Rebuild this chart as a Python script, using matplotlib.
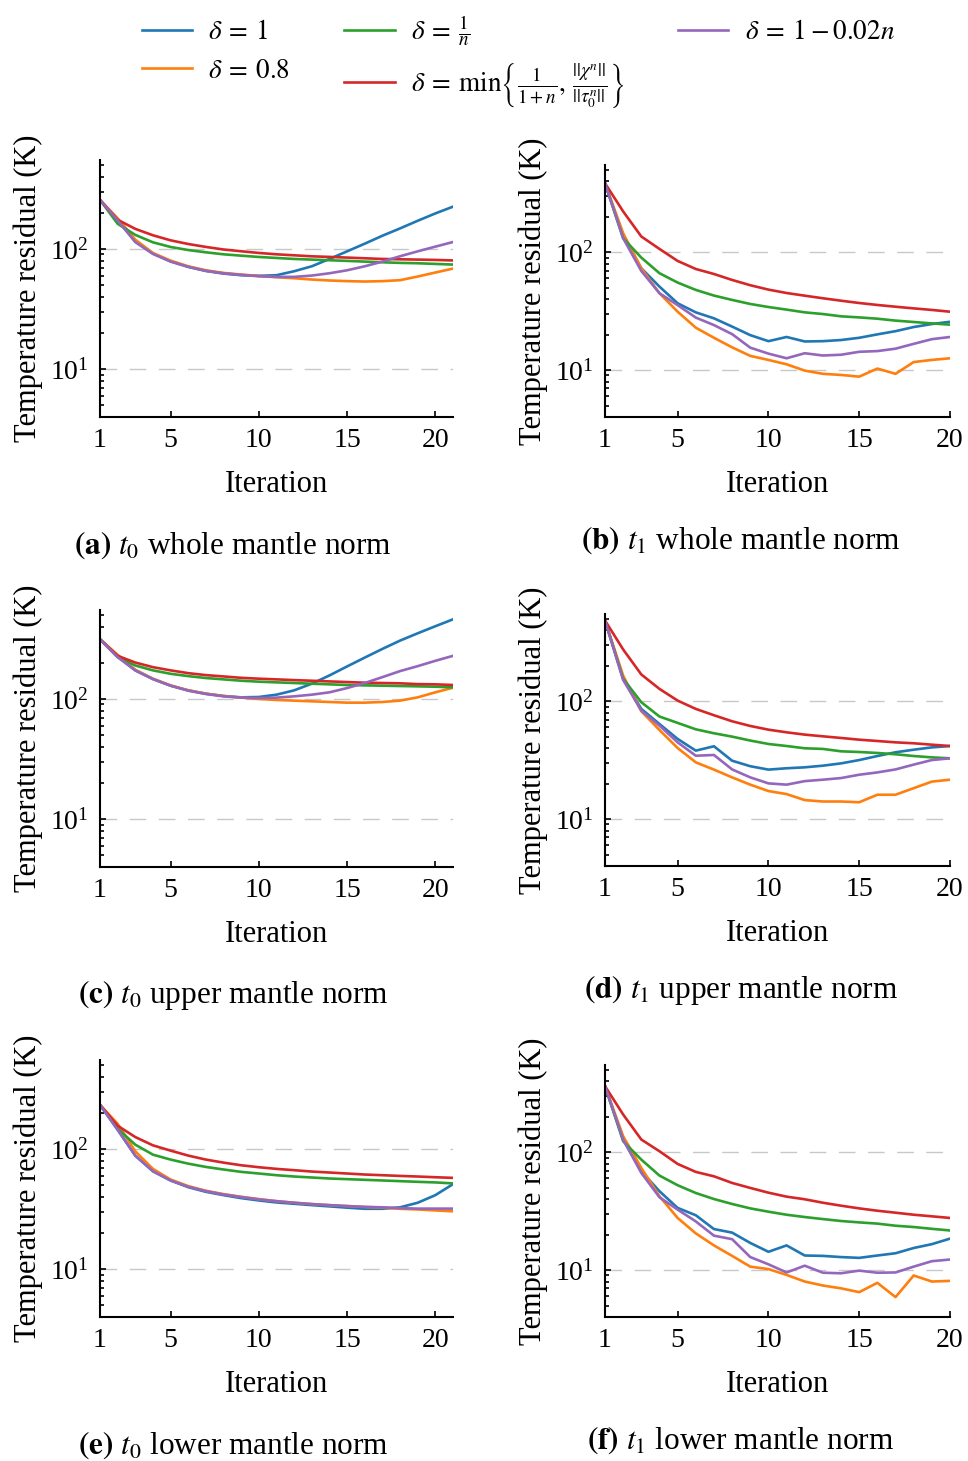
import matplotlib
matplotlib.use("Agg")
import matplotlib.pyplot as plt
from matplotlib.ticker import NullFormatter, LogLocator

plt.rcParams['font.family'] = ['Liberation Serif', 'DejaVu Serif']
plt.rcParams['mathtext.fontset'] = 'stix'

# iterations
it_left = list(range(1, 22))
it_right = list(range(1, 21))

# (a) t0 whole mantle norm
a_one = [256, 173, 116, 91.5, 79, 71, 65.7, 62.4, 60.5, 59.8, 60.5, 65.3, 71.8, 82.6, 95.6, 110.7, 128.9, 148.3, 171.7, 197.6, 225]
a_p8 = [256, 180, 119.5, 92.6, 80, 71.8, 66.5, 63.2, 61.3, 59.7, 58.2, 57.1, 55.7, 54.7, 54, 53.6, 54, 55, 59, 63.7, 68.7]
a_inv = [256, 162, 131, 113.6, 103.9, 98, 93.8, 90.3, 88, 85.8, 84.2, 82.6, 81.6, 80.6, 79.6, 78.5, 77.5, 76.6, 76.1, 75.1, 74.2]
a_min = [256, 175, 147, 130, 118, 110, 104, 99, 95.7, 92.7, 90.3, 88.6, 86.9, 85.9, 84.8, 83.7, 82.6, 82.1, 81.6, 81.1, 80.3]
a_lin = [256, 173, 114, 91, 78.5, 71, 65.7, 62.8, 60.9, 59.3, 58.6, 58.6, 60.1, 62.8, 66.5, 71.8, 78.5, 87, 95.6, 104.6, 114.3]

# (b) t1 whole mantle norm
b_one = [385, 136, 73.1, 51.1, 36.9, 30.9, 27.5, 23.4, 19.8, 17.6, 19.1, 17.5, 17.6, 18, 18.8, 20.1, 21.4, 23.2, 24.6, 25.7]
b_p8 = [385, 145, 73.1, 44.9, 31.3, 22.9, 18.8, 15.6, 13.2, 12.2, 11.2, 9.9, 9.3, 9.1, 8.8, 10.3, 9.3, 11.7, 12.2, 12.6]
b_inv = [385, 131.5, 90, 66.4, 55.3, 47.9, 42.9, 39.4, 36.4, 34.3, 32.6, 30.9, 29.9, 28.6, 28, 27.3, 26.3, 25.6, 24.9, 24.3]
b_min = [385, 222, 136, 106.7, 84.4, 72.1, 65.4, 58.2, 52.5, 48.2, 45.1, 42.8, 40.7, 38.8, 37.1, 35.7, 34.5, 33.4, 32.4, 31.3]
b_lin = [385, 131.5, 69.4, 44.9, 35.6, 27.9, 24.1, 20.2, 15.5, 13.8, 12.6, 13.9, 13.3, 13.5, 14.3, 14.5, 15.2, 16.7, 18.3, 19.1]

# (c) t0 upper mantle norm
c_one = [314, 225.7, 173, 146.5, 129, 118, 110.7, 105.9, 103.2, 103.9, 108.6, 118, 134, 157, 186.6, 221, 261, 306, 352, 403, 460]
c_p8 = [314, 233, 175, 147.5, 129.8, 118, 110.7, 105.9, 102.6, 100, 98.1, 96.9, 95.6, 94.4, 93.2, 93.2, 94.4, 96.9, 103.2, 113.6, 124.1]
c_inv = [314, 222.7, 190, 173, 162, 155, 149.4, 145.6, 141.9, 139.3, 137.5, 135.8, 134, 132.4, 130.7, 129.8, 129, 128.2, 127.4, 126.5, 125]
c_min = [314, 228.6, 201, 184, 173, 164, 158, 154, 150, 147.5, 145.6, 143.6, 141.8, 140, 138.3, 136.6, 135.8, 135, 133, 132.4, 130.7]
c_lin = [314, 222.7, 173, 146.5, 129, 117.2, 110, 105.2, 102.6, 101.9, 102.6, 105.2, 108.6, 113.6, 123.3, 135.8, 152, 170.6, 187.6, 207.8, 228.6]

# (d) t1 upper mantle norm
d_one = [485, 155, 86.1, 64.1, 47.9, 38.1, 41.5, 31.3, 28.1, 26.3, 27, 27.5, 28.4, 29.7, 31.7, 34.3, 36.9, 38.8, 40.6, 41.7]
d_p8 = [485, 165, 82.3, 57, 40.1, 30.3, 26.3, 22.6, 19.6, 17.3, 16.3, 14.5, 14.1, 14.1, 13.9, 16.1, 16.1, 18.3, 20.8, 21.6]
d_inv = [485, 155, 98.1, 74.2, 65.5, 57.8, 53.5, 50.1, 46.4, 43.4, 41.7, 39.9, 39.4, 37.6, 37.1, 36.4, 35.5, 34.3, 33.4, 32.8]
d_min = [485, 275, 168.7, 127.3, 101.3, 86.1, 76.1, 67.6, 61.7, 57.4, 54.5, 52.1, 50.4, 48.8, 47.2, 46, 44.8, 44, 42.8, 41.7]
d_lin = [485, 151.7, 83.3, 62.1, 44.8, 34.5, 35, 26.4, 22.6, 20.1, 19.6, 21, 21.6, 22.3, 23.8, 24.9, 26.4, 29, 31.7, 32.8]

# (e) t0 lower mantle norm
e_one = [233, 144.6, 88, 65.3, 54.7, 48.1, 44, 41.3, 39, 37.3, 35.9, 35, 34.1, 33.3, 32.5, 31.8, 31.8, 32.7, 35.7, 41.3, 51]
e_p8 = [233, 162, 95.6, 68.3, 55.7, 49.1, 44.9, 42.1, 40, 38.3, 36.8, 35.7, 34.8, 34.1, 33.5, 32.9, 32.5, 31.8, 31.4, 30.8, 30.3]
e_inv = [233, 147.4, 108.6, 89.7, 81.6, 75.5, 70.9, 67.5, 64.5, 62.5, 60.5, 59, 57.9, 56.8, 56.1, 55.4, 54.7, 54, 53.3, 52.7, 51.7]
e_min = [233, 156, 125.7, 107.2, 96.9, 88.1, 81.6, 77, 73.2, 70.5, 68.3, 66.6, 64.9, 63.7, 62.5, 61.3, 60.5, 59.7, 59, 58.2, 57.5]
e_lin = [233, 144.6, 88, 65.3, 54.7, 48.5, 44.6, 41.8, 39.8, 38, 36.8, 35.7, 34.8, 34.1, 33.5, 33, 32.7, 32.2, 31.9, 31.9, 31.9]

# (f) t1 lower mantle norm
f_one = [364, 128, 69, 46.7, 33.7, 29.2, 22.3, 20.8, 17, 14.3, 16.2, 13.3, 13.2, 12.9, 12.7, 13.3, 13.9, 15.4, 16.6, 18.5]
f_p8 = [364, 136.7, 73.6, 42.3, 27.7, 20.5, 16.2, 13.2, 10.7, 10.2, 9.1, 8, 7.4, 7, 6.5, 7.8, 5.9, 9, 8, 8.1]
f_inv = [364, 124, 86.6, 63.4, 52.5, 45.1, 40.1, 36.4, 33.4, 31.3, 29.5, 28.2, 27.1, 26.1, 25.4, 24.8, 23.8, 23.2, 22.4, 21.7]
f_min = [364, 209, 128.2, 102, 79.6, 68.1, 62.5, 54.9, 49.8, 45.4, 42, 39.9, 37.3, 35.2, 33.4, 31.9, 30.7, 29.5, 28.6, 27.7]
f_lin = [364, 128, 66.8, 41.5, 32.6, 25.9, 19.6, 18.3, 12.9, 11.2, 9.55, 10.9, 9.5, 9.4, 9.9, 9.5, 9.55, 10.7, 11.9, 12.3]

labels = [r'$\delta\:=\:1$', r'$\delta\:=\:0.8$', r'$\delta\:=\:\frac{1}{n}$',
          r'$\delta\:=\:\min\left\{\frac{1}{1+n},\, \frac{||\chi^n||}{||\tau_0^n||}\right\}$',
          r'$\delta\:=\:1 - 0.02n$']
colors = ['#1f77b4', '#ff7f0e', '#2ca02c', '#d62728', '#9467bd']

panels = [
    ('a', '$t_0$ whole mantle norm', it_left, [a_one, a_p8, a_inv, a_min, a_lin]),
    ('b', '$t_1$ whole mantle norm', it_right, [b_one, b_p8, b_inv, b_min, b_lin]),
    ('c', '$t_0$ upper mantle norm', it_left, [c_one, c_p8, c_inv, c_min, c_lin]),
    ('d', '$t_1$ upper mantle norm', it_right, [d_one, d_p8, d_inv, d_min, d_lin]),
    ('e', '$t_0$ lower mantle norm', it_left, [e_one, e_p8, e_inv, e_min, e_lin]),
    ('f', '$t_1$ lower mantle norm', it_right, [f_one, f_p8, f_inv, f_min, f_lin]),
]

W, H = 968, 1461
fig = plt.figure(figsize=(W / 100, H / 100), dpi=100)

# pixel boxes: left, top, right, bottom
boxes = [
    (100, 160, 453, 417), (605, 165, 950, 417),
    (100, 610, 453, 867), (605, 614, 950, 866),
    (100, 1060, 453, 1317), (605, 1065, 950, 1317),
]
caption_pos = [(233, 545), (741, 540), (233, 995), (741, 990), (233, 1445), (741, 1440)]

for (key, cap, x, series), (l, t, r, b), (cx, cy) in zip(panels, boxes, caption_pos):
    ax = fig.add_axes([l / W, 1 - b / H, (r - l) / W, (b - t) / H])
    for ys, c, lab in zip(series, colors, labels):
        ax.plot(x, ys, color=c, lw=1.9, label=lab)
    ax.set_yscale('log')
    ax.set_ylim(4, 550)
    ax.set_xlim(1, x[-1])
    ax.set_xticks([1, 5, 10, 15, 20])
    ax.yaxis.set_major_locator(LogLocator(base=10, numticks=10))
    ax.yaxis.set_minor_formatter(NullFormatter())
    ax.yaxis.grid(True, which='major', color='#c8c8c8', lw=1.0, ls=(0, (12, 9)))
    ax.set_axisbelow(True)
    for s in ['top', 'right']:
        ax.spines[s].set_visible(False)
    for s in ['left', 'bottom']:
        ax.spines[s].set_linewidth(1.5)
    ax.tick_params(which='both', direction='in', labelsize=20, width=1.2)
    ax.tick_params(which='major', length=4, pad=8)
    ax.tick_params(which='minor', length=3)
    ax.set_xlabel('Iteration', fontsize=22, labelpad=12)
    ax.set_ylabel('Temperature residual (K)', fontsize=22, labelpad=5)
    fig.text(cx / W, 1 - cy / H, r'$\mathbf{(' + key + r')}$ ' + cap,
             ha='center', va='center', fontsize=22.5)

handles, labs = ax.get_legend_handles_labels()
fig.legend(handles, labs, loc='upper left', bbox_to_anchor=(142 / W, 1 - 13 / H),
           ncol=3, frameon=False, fontsize=19.5, handlelength=1.85, handletextpad=0.6,
           columnspacing=2.0, labelspacing=0.5, borderpad=0, borderaxespad=0)

fig.savefig('out.png', dpi=100)
